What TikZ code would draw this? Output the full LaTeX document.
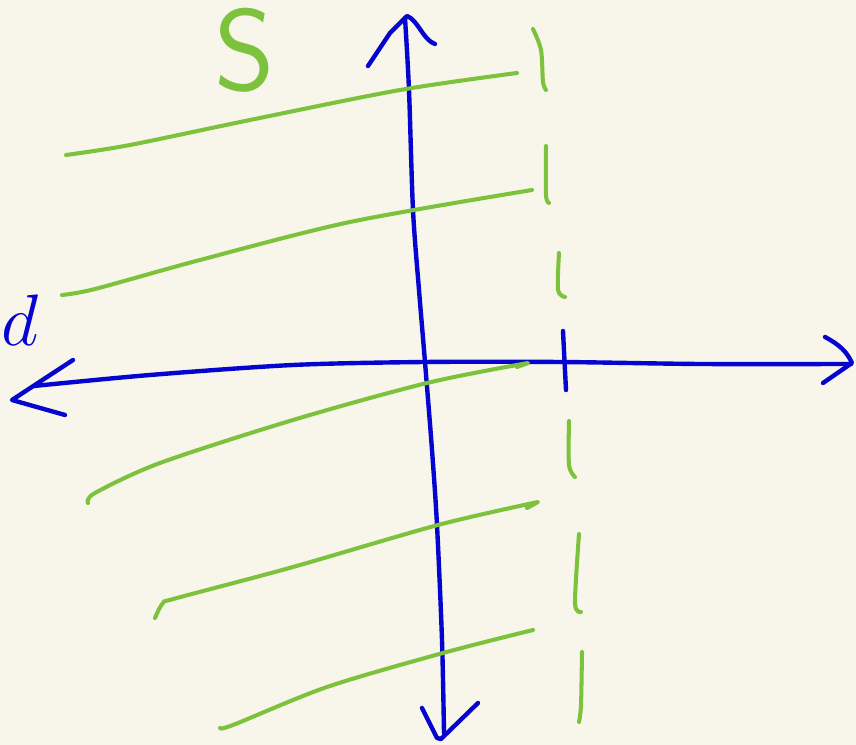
\documentclass[tikz,border=0pt]{standalone}
\usetikzlibrary{positioning}
\definecolor{paperc}{HTML}{F8F6EB}
\definecolor{axisc}{HTML}{0505CF}
\definecolor{setc}{HTML}{7CC23C}
\tikzset{
  axisline/.style={draw=axisc,line width=1.25pt,line cap=round,line join=round},
  setline/.style={draw=setc,line width=1.15pt,line cap=round,line join=round},
  slbl/.style={text=setc,inner sep=0pt,font=\sffamily\fontsize{33}{38}\selectfont},
  dlbl/.style={text=axisc,inner sep=0pt,font=\fontsize{21}{24}\selectfont},
}

\begin{document}
\begin{tikzpicture}[x=0.1mm,y=-0.1mm]
  \fill[paperc] (0,0) rectangle (856,745);
  \useasboundingbox (0,0) rectangle (856,745);
  % axes
  \draw[axisline] plot[smooth] coordinates {(405,18) (409,90) (413,210) (419,290) (425,362) (432,450) (437,525) (442,640) (444,733)};
  \draw[axisline] plot[smooth] coordinates {(34,386) (150,375) (293,365) (425,362) (560,362) (700,364) (851,364)};
  % arrow heads
  \draw[axisline] (368,66) -- (390,33) -- (407,16) .. controls (418,20) and (423,40) .. (435,44);
  \draw[axisline] (422,708) -- (437,738) -- (441,739) -- (478,703);
  \draw[axisline] (73,360) -- (12,400) -- (65,415);
  \draw[axisline] (825,337) .. controls (840,345) and (847,352) .. (852,363) -- (823,383);
  % the set S
  \draw[setline] plot[smooth,tension=0.5] coordinates {(66,155) (130,145) (250,120) (400,90) (517,73)};
  \draw[setline] plot[smooth,tension=0.5] coordinates {(62,295) (95,289) (200,260) (350,222) (532,190)};
  \draw[setline] plot[smooth,tension=0.5] coordinates {(88,503) (95,493) (160,463) (293,420) (427,383) (528,363)} -- (517,367);
  \draw[setline] plot[smooth,tension=0.5] coordinates {(155,618) (163,603) (177,598) (293,567) (438,525) (538,502)} -- (527,508);
  \draw[setline] plot[smooth,tension=0.5] coordinates {(220,728) (233,725) (327,687) (443,653) (533,630)};
  % boundary
  \draw[setline] plot[smooth] coordinates {(533,29) (541,50) (543,82) (546,90)};
  \draw[setline] plot[smooth] coordinates {(546,146) (546,195) (549,203)};
  \draw[setline] plot[smooth] coordinates {(559,253) (558,290) (565,297)};
  \draw[axisline] (563,331) -- (566,390);
  \draw[setline] plot[smooth] coordinates {(569,421) (569,465) (575,477)};
  \draw[setline] plot[smooth] coordinates {(579,534) (575,603) (581,612)};
  \draw[setline] plot[smooth] coordinates {(582,652) (581,705) (579,722)};
  % labels
  \node[slbl] (slabel) at (245,50) {S};
  \node[dlbl] (dlabel) at (20,320) {$d$};
\end{tikzpicture}
\end{document}
